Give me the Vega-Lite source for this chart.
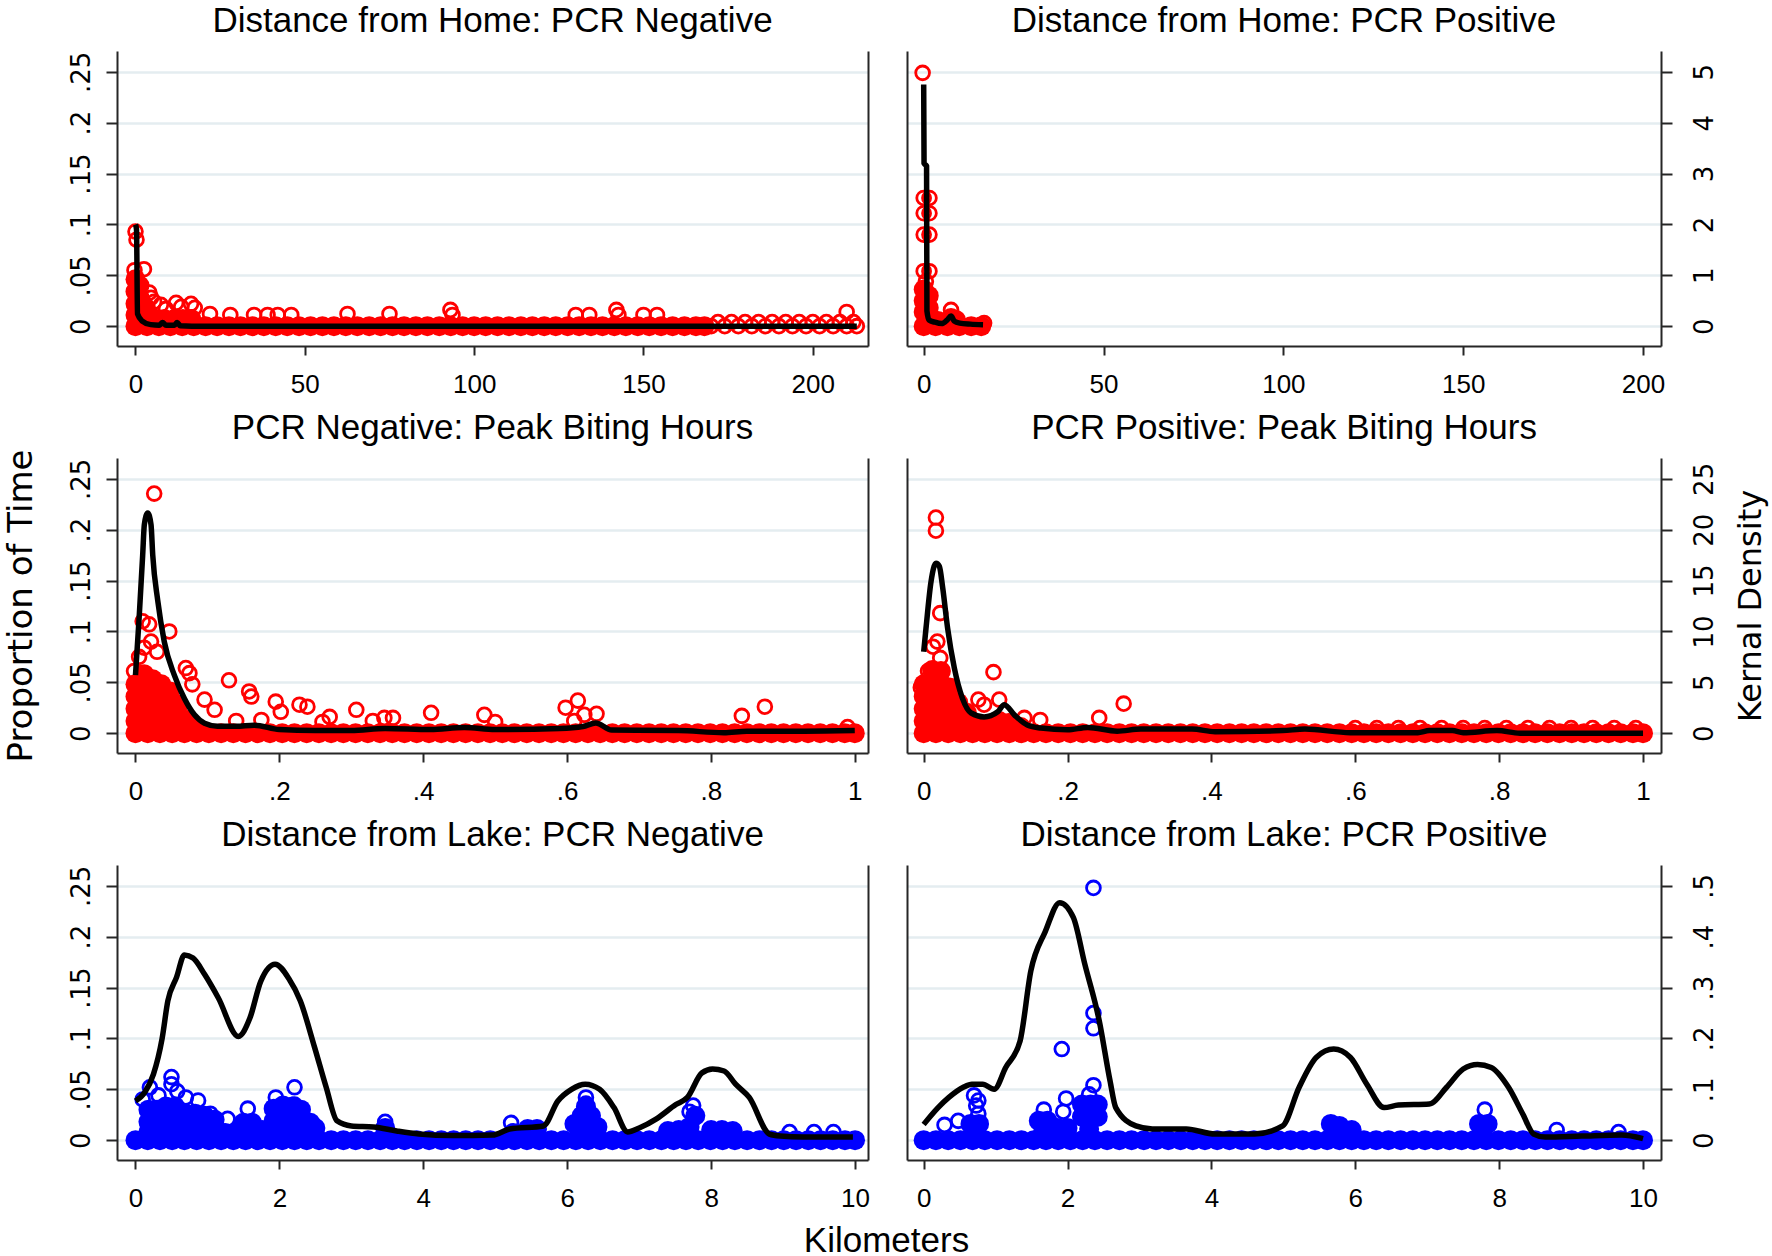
{
"$schema": "https://vega.github.io/schema/vega-lite/v6.json",
"autosize": {"type": "pad"},
"padding": {"left": 3, "top": 4, "right": 10, "bottom": 4},
"background": "white",
"datasets": {
"cloud": [
{"p":1,"x":0,"y":0},{"p":1,"x":3.4,"y":0},{"p":1,"x":6.9,"y":0},{"p":1,"x":10.3,"y":0},{"p":1,"x":13.8,"y":0},{"p":1,"x":17.2,"y":0},{"p":1,"x":20.7,"y":0},{"p":1,"x":24.1,"y":0},{"p":1,"x":27.6,"y":0},{"p":1,"x":31,"y":0},{"p":1,"x":34.5,"y":0},{"p":1,"x":37.9,"y":0},{"p":1,"x":41.4,"y":0},{"p":1,"x":44.8,"y":0},{"p":1,"x":48.3,"y":0},{"p":1,"x":51.7,"y":0},{"p":1,"x":55.2,"y":0},{"p":1,"x":58.6,"y":0},{"p":1,"x":62.1,"y":0},{"p":1,"x":65.5,"y":0},{"p":1,"x":69,"y":0},{"p":1,"x":72.4,"y":0},{"p":1,"x":75.9,"y":0},{"p":1,"x":79.3,"y":0},{"p":1,"x":82.8,"y":0},{"p":1,"x":86.2,"y":0},{"p":1,"x":89.7,"y":0},{"p":1,"x":93.1,"y":0},{"p":1,"x":96.6,"y":0},{"p":1,"x":100,"y":0},{"p":1,"x":103.4,"y":0},{"p":1,"x":106.9,"y":0},{"p":1,"x":110.3,"y":0},{"p":1,"x":113.8,"y":0},{"p":1,"x":117.2,"y":0},{"p":1,"x":120.7,"y":0},{"p":1,"x":124.1,"y":0},{"p":1,"x":127.6,"y":0},{"p":1,"x":131,"y":0},{"p":1,"x":134.5,"y":0},{"p":1,"x":137.9,"y":0},{"p":1,"x":141.4,"y":0},{"p":1,"x":144.8,"y":0},{"p":1,"x":148.3,"y":0},{"p":1,"x":151.7,"y":0},{"p":1,"x":155.2,"y":0},{"p":1,"x":158.6,"y":0},{"p":1,"x":162.1,"y":0},{"p":1,"x":165.5,"y":0},{"p":1,"x":168,"y":0},
{"p":1,"x":0,"y":0.046},{"p":1,"x":0,"y":0.034},{"p":1,"x":0,"y":0.022},{"p":1,"x":0,"y":0.011},{"p":1,"x":1.2,"y":0.04},{"p":1,"x":1.2,"y":0.028},{"p":1,"x":1.2,"y":0.016},{"p":1,"x":2.6,"y":0.02},{"p":1,"x":3,"y":0.008},{"p":1,"x":5.5,"y":0.007},{"p":1,"x":8.5,"y":0.007},{"p":1,"x":11.5,"y":0.007},{"p":1,"x":14,"y":0.007},{"p":1,"x":16.5,"y":0.007},
{"p":2,"x":0,"y":0},{"p":2,"x":3.3,"y":0},{"p":2,"x":6.6,"y":0},{"p":2,"x":9.9,"y":0},{"p":2,"x":13.2,"y":0},{"p":2,"x":16,"y":0},{"p":2,"x":0,"y":0.036},{"p":2,"x":0,"y":0.025},{"p":2,"x":0,"y":0.014},{"p":2,"x":1.4,"y":0.03},{"p":2,"x":1.4,"y":0.018},{"p":2,"x":1.4,"y":0.008},{"p":2,"x":4,"y":0.005},{"p":2,"x":7.6,"y":0.008},{"p":2,"x":9,"y":0.006},
{"p":3,"x":0,"y":0},{"p":3,"x":0.017,"y":0},{"p":3,"x":0.034,"y":0},{"p":3,"x":0.051,"y":0},{"p":3,"x":0.068,"y":0},{"p":3,"x":0.085,"y":0},{"p":3,"x":0.102,"y":0},{"p":3,"x":0.119,"y":0},{"p":3,"x":0.136,"y":0},{"p":3,"x":0.153,"y":0},{"p":3,"x":0.17,"y":0},{"p":3,"x":0.187,"y":0},{"p":3,"x":0.204,"y":0},{"p":3,"x":0.221,"y":0},{"p":3,"x":0.238,"y":0},{"p":3,"x":0.255,"y":0},{"p":3,"x":0.272,"y":0},{"p":3,"x":0.289,"y":0},{"p":3,"x":0.306,"y":0},{"p":3,"x":0.323,"y":0},{"p":3,"x":0.34,"y":0},{"p":3,"x":0.357,"y":0},{"p":3,"x":0.374,"y":0},{"p":3,"x":0.391,"y":0},{"p":3,"x":0.408,"y":0},{"p":3,"x":0.425,"y":0},{"p":3,"x":0.442,"y":0},{"p":3,"x":0.459,"y":0},{"p":3,"x":0.476,"y":0},{"p":3,"x":0.493,"y":0},{"p":3,"x":0.51,"y":0},{"p":3,"x":0.527,"y":0},{"p":3,"x":0.544,"y":0},{"p":3,"x":0.561,"y":0},{"p":3,"x":0.578,"y":0},{"p":3,"x":0.595,"y":0},{"p":3,"x":0.612,"y":0},{"p":3,"x":0.629,"y":0},{"p":3,"x":0.646,"y":0},{"p":3,"x":0.663,"y":0},{"p":3,"x":0.68,"y":0},{"p":3,"x":0.697,"y":0},{"p":3,"x":0.714,"y":0},{"p":3,"x":0.731,"y":0},{"p":3,"x":0.748,"y":0},{"p":3,"x":0.765,"y":0},{"p":3,"x":0.782,"y":0},{"p":3,"x":0.799,"y":0},{"p":3,"x":0.816,"y":0},{"p":3,"x":0.833,"y":0},{"p":3,"x":0.85,"y":0},{"p":3,"x":0.867,"y":0},{"p":3,"x":0.884,"y":0},{"p":3,"x":0.901,"y":0},{"p":3,"x":0.918,"y":0},{"p":3,"x":0.935,"y":0},{"p":3,"x":0.952,"y":0},{"p":3,"x":0.969,"y":0},{"p":3,"x":0.986,"y":0},{"p":3,"x":1,"y":0},
{"p":3,"x":0,"y":0.048},{"p":3,"x":0,"y":0.036},{"p":3,"x":0,"y":0.024},{"p":3,"x":0,"y":0.012},{"p":3,"x":0.012,"y":0.058},{"p":3,"x":0.012,"y":0.046},{"p":3,"x":0.012,"y":0.034},{"p":3,"x":0.012,"y":0.022},{"p":3,"x":0.012,"y":0.01},{"p":3,"x":0.024,"y":0.053},{"p":3,"x":0.024,"y":0.041},{"p":3,"x":0.024,"y":0.029},{"p":3,"x":0.024,"y":0.017},{"p":3,"x":0.036,"y":0.048},{"p":3,"x":0.036,"y":0.036},{"p":3,"x":0.036,"y":0.024},{"p":3,"x":0.036,"y":0.012},{"p":3,"x":0.048,"y":0.041},{"p":3,"x":0.048,"y":0.029},{"p":3,"x":0.048,"y":0.017},{"p":3,"x":0.06,"y":0.028},{"p":3,"x":0.06,"y":0.016},{"p":3,"x":0.072,"y":0.013},{"p":3,"x":0.084,"y":0.006},
{"p":4,"x":0,"y":0},{"p":4,"x":0.017,"y":0},{"p":4,"x":0.034,"y":0},{"p":4,"x":0.051,"y":0},{"p":4,"x":0.068,"y":0},{"p":4,"x":0.085,"y":0},{"p":4,"x":0.102,"y":0},{"p":4,"x":0.119,"y":0},{"p":4,"x":0.136,"y":0},{"p":4,"x":0.153,"y":0},{"p":4,"x":0.17,"y":0},{"p":4,"x":0.187,"y":0},{"p":4,"x":0.204,"y":0},{"p":4,"x":0.221,"y":0},{"p":4,"x":0.238,"y":0},{"p":4,"x":0.255,"y":0},{"p":4,"x":0.272,"y":0},{"p":4,"x":0.289,"y":0},{"p":4,"x":0.306,"y":0},{"p":4,"x":0.323,"y":0},{"p":4,"x":0.34,"y":0},{"p":4,"x":0.357,"y":0},{"p":4,"x":0.374,"y":0},{"p":4,"x":0.391,"y":0},{"p":4,"x":0.408,"y":0},{"p":4,"x":0.425,"y":0},{"p":4,"x":0.442,"y":0},{"p":4,"x":0.459,"y":0},{"p":4,"x":0.476,"y":0},{"p":4,"x":0.493,"y":0},{"p":4,"x":0.51,"y":0},{"p":4,"x":0.527,"y":0},{"p":4,"x":0.544,"y":0},{"p":4,"x":0.561,"y":0},{"p":4,"x":0.578,"y":0},{"p":4,"x":0.595,"y":0},{"p":4,"x":0.612,"y":0},{"p":4,"x":0.629,"y":0},{"p":4,"x":0.646,"y":0},{"p":4,"x":0.663,"y":0},{"p":4,"x":0.68,"y":0},{"p":4,"x":0.697,"y":0},{"p":4,"x":0.714,"y":0},{"p":4,"x":0.731,"y":0},{"p":4,"x":0.748,"y":0},{"p":4,"x":0.765,"y":0},{"p":4,"x":0.782,"y":0},{"p":4,"x":0.799,"y":0},{"p":4,"x":0.816,"y":0},{"p":4,"x":0.833,"y":0},{"p":4,"x":0.85,"y":0},{"p":4,"x":0.867,"y":0},{"p":4,"x":0.884,"y":0},{"p":4,"x":0.901,"y":0},{"p":4,"x":0.918,"y":0},{"p":4,"x":0.935,"y":0},{"p":4,"x":0.952,"y":0},{"p":4,"x":0.969,"y":0},{"p":4,"x":0.986,"y":0},{"p":4,"x":1,"y":0},
{"p":4,"x":0,"y":0.048},{"p":4,"x":0,"y":0.036},{"p":4,"x":0,"y":0.024},{"p":4,"x":0,"y":0.012},{"p":4,"x":0.012,"y":0.062},{"p":4,"x":0.012,"y":0.05},{"p":4,"x":0.012,"y":0.038},{"p":4,"x":0.012,"y":0.026},{"p":4,"x":0.012,"y":0.014},{"p":4,"x":0.024,"y":0.061},{"p":4,"x":0.024,"y":0.049},{"p":4,"x":0.024,"y":0.037},{"p":4,"x":0.024,"y":0.025},{"p":4,"x":0.024,"y":0.013},{"p":4,"x":0.036,"y":0.045},{"p":4,"x":0.036,"y":0.033},{"p":4,"x":0.036,"y":0.021},{"p":4,"x":0.036,"y":0.009},{"p":4,"x":0.048,"y":0.03},{"p":4,"x":0.048,"y":0.018},{"p":4,"x":0.048,"y":0.008},{"p":4,"x":0.06,"y":0.02},{"p":4,"x":0.06,"y":0.01},{"p":4,"x":0.075,"y":0.009},{"p":4,"x":0.09,"y":0.009},{"p":4,"x":0.105,"y":0.012},{"p":4,"x":0.118,"y":0.01},{"p":4,"x":0.135,"y":0.006},
{"p":5,"x":0,"y":0},{"p":5,"x":0.17,"y":0},{"p":5,"x":0.34,"y":0},{"p":5,"x":0.51,"y":0},{"p":5,"x":0.68,"y":0},{"p":5,"x":0.85,"y":0},{"p":5,"x":1.02,"y":0},{"p":5,"x":1.19,"y":0},{"p":5,"x":1.36,"y":0},{"p":5,"x":1.53,"y":0},{"p":5,"x":1.7,"y":0},{"p":5,"x":1.87,"y":0},{"p":5,"x":2.04,"y":0},{"p":5,"x":2.21,"y":0},{"p":5,"x":2.38,"y":0},{"p":5,"x":2.55,"y":0},{"p":5,"x":2.72,"y":0},{"p":5,"x":2.89,"y":0},{"p":5,"x":3.06,"y":0},{"p":5,"x":3.23,"y":0},{"p":5,"x":3.4,"y":0},{"p":5,"x":3.57,"y":0},{"p":5,"x":3.74,"y":0},{"p":5,"x":3.91,"y":0},{"p":5,"x":4.08,"y":0},{"p":5,"x":4.25,"y":0},{"p":5,"x":4.42,"y":0},{"p":5,"x":4.59,"y":0},{"p":5,"x":4.76,"y":0},{"p":5,"x":4.93,"y":0},{"p":5,"x":5.1,"y":0},{"p":5,"x":5.27,"y":0},{"p":5,"x":5.44,"y":0},{"p":5,"x":5.61,"y":0},{"p":5,"x":5.78,"y":0},{"p":5,"x":5.95,"y":0},{"p":5,"x":6.12,"y":0},{"p":5,"x":6.29,"y":0},{"p":5,"x":6.46,"y":0},{"p":5,"x":6.63,"y":0},{"p":5,"x":6.8,"y":0},{"p":5,"x":6.97,"y":0},{"p":5,"x":7.14,"y":0},{"p":5,"x":7.31,"y":0},{"p":5,"x":7.48,"y":0},{"p":5,"x":7.65,"y":0},{"p":5,"x":7.82,"y":0},{"p":5,"x":7.99,"y":0},{"p":5,"x":8.16,"y":0},{"p":5,"x":8.33,"y":0},{"p":5,"x":8.5,"y":0},{"p":5,"x":8.67,"y":0},{"p":5,"x":8.84,"y":0},{"p":5,"x":9.01,"y":0},{"p":5,"x":9.18,"y":0},{"p":5,"x":9.35,"y":0},{"p":5,"x":9.52,"y":0},{"p":5,"x":9.69,"y":0},{"p":5,"x":9.86,"y":0},{"p":5,"x":10,"y":0},
{"p":5,"x":0.18,"y":0.03},{"p":5,"x":0.18,"y":0.018},{"p":5,"x":0.18,"y":0.008},{"p":5,"x":0.3,"y":0.03},{"p":5,"x":0.3,"y":0.018},{"p":5,"x":0.3,"y":0.008},{"p":5,"x":0.42,"y":0.033},{"p":5,"x":0.42,"y":0.021},{"p":5,"x":0.42,"y":0.009},{"p":5,"x":0.55,"y":0.033},{"p":5,"x":0.55,"y":0.021},{"p":5,"x":0.55,"y":0.009},{"p":5,"x":0.7,"y":0.026},{"p":5,"x":0.7,"y":0.014},{"p":5,"x":0.83,"y":0.026},{"p":5,"x":0.83,"y":0.014},{"p":5,"x":0.96,"y":0.024},{"p":5,"x":0.96,"y":0.012},{"p":5,"x":1.1,"y":0.02},{"p":5,"x":1.1,"y":0.009},{"p":5,"x":1.25,"y":0.007},{"p":5,"x":1.38,"y":0.007},{"p":5,"x":1.5,"y":0.017},{"p":5,"x":1.5,"y":0.007},{"p":5,"x":1.62,"y":0.017},{"p":5,"x":1.62,"y":0.007},{"p":5,"x":1.76,"y":0.01},{"p":5,"x":1.92,"y":0.031},{"p":5,"x":1.92,"y":0.019},{"p":5,"x":1.92,"y":0.008},{"p":5,"x":2.05,"y":0.034},{"p":5,"x":2.05,"y":0.022},{"p":5,"x":2.05,"y":0.01},{"p":5,"x":2.18,"y":0.033},{"p":5,"x":2.18,"y":0.021},{"p":5,"x":2.18,"y":0.009},{"p":5,"x":2.3,"y":0.03},{"p":5,"x":2.3,"y":0.018},{"p":5,"x":2.3,"y":0.008},{"p":5,"x":2.43,"y":0.017},{"p":5,"x":2.43,"y":0.007},{"p":5,"x":2.5,"y":0.012},{"p":5,"x":3.47,"y":0.012},{"p":5,"x":5.25,"y":0.007},{"p":5,"x":5.45,"y":0.011},{"p":5,"x":5.58,"y":0.011},{"p":5,"x":6.1,"y":0.016},{"p":5,"x":6.2,"y":0.024},{"p":5,"x":6.26,"y":0.033},{"p":5,"x":6.33,"y":0.024},{"p":5,"x":6.42,"y":0.013},{"p":5,"x":6.2,"y":0.01},{"p":5,"x":6.3,"y":0.01},{"p":5,"x":7.4,"y":0.009},{"p":5,"x":7.55,"y":0.01},{"p":5,"x":7.7,"y":0.013},{"p":5,"x":7.78,"y":0.024},{"p":5,"x":8,"y":0.01},{"p":5,"x":8.15,"y":0.01},{"p":5,"x":8.3,"y":0.009},
{"p":6,"x":0,"y":0},{"p":6,"x":0.17,"y":0},{"p":6,"x":0.34,"y":0},{"p":6,"x":0.51,"y":0},{"p":6,"x":0.68,"y":0},{"p":6,"x":0.85,"y":0},{"p":6,"x":1.02,"y":0},{"p":6,"x":1.19,"y":0},{"p":6,"x":1.36,"y":0},{"p":6,"x":1.53,"y":0},{"p":6,"x":1.7,"y":0},{"p":6,"x":1.87,"y":0},{"p":6,"x":2.04,"y":0},{"p":6,"x":2.21,"y":0},{"p":6,"x":2.38,"y":0},{"p":6,"x":2.55,"y":0},{"p":6,"x":2.72,"y":0},{"p":6,"x":2.89,"y":0},{"p":6,"x":3.06,"y":0},{"p":6,"x":3.23,"y":0},{"p":6,"x":3.4,"y":0},{"p":6,"x":3.57,"y":0},{"p":6,"x":3.74,"y":0},{"p":6,"x":3.91,"y":0},{"p":6,"x":4.08,"y":0},{"p":6,"x":4.25,"y":0},{"p":6,"x":4.42,"y":0},{"p":6,"x":4.59,"y":0},{"p":6,"x":4.76,"y":0},{"p":6,"x":4.93,"y":0},{"p":6,"x":5.1,"y":0},{"p":6,"x":5.27,"y":0},{"p":6,"x":5.44,"y":0},{"p":6,"x":5.61,"y":0},{"p":6,"x":5.78,"y":0},{"p":6,"x":5.95,"y":0},{"p":6,"x":6.12,"y":0},{"p":6,"x":6.29,"y":0},{"p":6,"x":6.46,"y":0},{"p":6,"x":6.63,"y":0},{"p":6,"x":6.8,"y":0},{"p":6,"x":6.97,"y":0},{"p":6,"x":7.14,"y":0},{"p":6,"x":7.31,"y":0},{"p":6,"x":7.48,"y":0},{"p":6,"x":7.65,"y":0},{"p":6,"x":7.82,"y":0},{"p":6,"x":7.99,"y":0},{"p":6,"x":8.16,"y":0},{"p":6,"x":8.33,"y":0},{"p":6,"x":8.5,"y":0},{"p":6,"x":8.67,"y":0},{"p":6,"x":8.84,"y":0},{"p":6,"x":9.01,"y":0},{"p":6,"x":9.18,"y":0},{"p":6,"x":9.35,"y":0},{"p":6,"x":9.52,"y":0},{"p":6,"x":9.69,"y":0},{"p":6,"x":9.86,"y":0},{"p":6,"x":10,"y":0},
{"p":6,"x":0.65,"y":0.016},{"p":6,"x":0.77,"y":0.016},{"p":6,"x":0.7,"y":0.008},{"p":6,"x":1.6,"y":0.019},{"p":6,"x":1.72,"y":0.019},{"p":6,"x":1.66,"y":0.008},{"p":6,"x":1.86,"y":0.012},{"p":6,"x":2,"y":0.012},{"p":6,"x":2.2,"y":0.035},{"p":6,"x":2.32,"y":0.035},{"p":6,"x":2.42,"y":0.035},{"p":6,"x":2.2,"y":0.023},{"p":6,"x":2.32,"y":0.023},{"p":6,"x":2.42,"y":0.023},{"p":6,"x":2.3,"y":0.011},{"p":6,"x":5.66,"y":0.016},{"p":6,"x":5.78,"y":0.014},{"p":6,"x":5.95,"y":0.01},{"p":6,"x":7.72,"y":0.016},{"p":6,"x":7.84,"y":0.016}
],
"pts": [
{"p":1,"x":0,"y":0.093},{"p":1,"x":0.3,"y":0.085},{"p":1,"x":-0.3,"y":0.055},{"p":1,"x":2.5,"y":0.056},{"p":1,"x":4.1,"y":0.033},{"p":1,"x":4.6,"y":0.028},{"p":1,"x":5.5,"y":0.024},{"p":1,"x":7.5,"y":0.021},{"p":1,"x":9,"y":0.017},{"p":1,"x":12,"y":0.023},{"p":1,"x":13.5,"y":0.019},{"p":1,"x":16.4,"y":0.022},{"p":1,"x":17.5,"y":0.018},{"p":1,"x":22,"y":0.012},{"p":1,"x":28,"y":0.011},{"p":1,"x":35,"y":0.011},{"p":1,"x":39,"y":0.011},{"p":1,"x":42,"y":0.011},{"p":1,"x":46,"y":0.011},{"p":1,"x":62.6,"y":0.012},{"p":1,"x":75,"y":0.012},{"p":1,"x":93,"y":0.016},{"p":1,"x":93.6,"y":0.011},{"p":1,"x":130,"y":0.011},{"p":1,"x":134,"y":0.011},{"p":1,"x":142,"y":0.016},{"p":1,"x":142.6,"y":0.011},{"p":1,"x":150,"y":0.011},{"p":1,"x":154,"y":0.011},{"p":1,"x":210,"y":0.014},
{"p":1,"x":170,"y":0},{"p":1,"x":174,"y":0},{"p":1,"x":178,"y":0},{"p":1,"x":182,"y":0},{"p":1,"x":186,"y":0},{"p":1,"x":190,"y":0},{"p":1,"x":194,"y":0},{"p":1,"x":198,"y":0},{"p":1,"x":202,"y":0},{"p":1,"x":206,"y":0},{"p":1,"x":210,"y":0},{"p":1,"x":213,"y":0},{"p":1,"x":172,"y":0.004},{"p":1,"x":176,"y":0.004},{"p":1,"x":180,"y":0.004},{"p":1,"x":184,"y":0.004},{"p":1,"x":188,"y":0.004},{"p":1,"x":192,"y":0.004},{"p":1,"x":196,"y":0.004},{"p":1,"x":200,"y":0.004},{"p":1,"x":204,"y":0.004},{"p":1,"x":208,"y":0.004},{"p":1,"x":212,"y":0.004},
{"p":2,"x":-0.3,"y":0.249},{"p":2,"x":0,"y":0.126},{"p":2,"x":1.6,"y":0.126},{"p":2,"x":0,"y":0.111},{"p":2,"x":1.6,"y":0.111},{"p":2,"x":0,"y":0.09},{"p":2,"x":1.6,"y":0.09},{"p":2,"x":0,"y":0.054},{"p":2,"x":1.6,"y":0.054},{"p":2,"x":0.6,"y":0.044},{"p":2,"x":7.6,"y":0.016},{"p":2,"x":16.8,"y":0.003},
{"p":3,"x":0.026,"y":0.2355},{"p":3,"x":0.01,"y":0.11},{"p":3,"x":0.019,"y":0.107},{"p":3,"x":0.047,"y":0.1},{"p":3,"x":0.0216,"y":0.09},{"p":3,"x":0.012,"y":0.084},{"p":3,"x":-0.002,"y":0.061},{"p":3,"x":0.005,"y":0.075},{"p":3,"x":0.03,"y":0.08},{"p":3,"x":0.07,"y":0.064},{"p":3,"x":0.075,"y":0.059},{"p":3,"x":0.079,"y":0.048},{"p":3,"x":0.13,"y":0.052},{"p":3,"x":0.158,"y":0.041},{"p":3,"x":0.161,"y":0.036},{"p":3,"x":0.096,"y":0.033},{"p":3,"x":0.11,"y":0.023},{"p":3,"x":0.195,"y":0.031},{"p":3,"x":0.202,"y":0.021},{"p":3,"x":0.228,"y":0.028},{"p":3,"x":0.239,"y":0.026},{"p":3,"x":0.27,"y":0.016},{"p":3,"x":0.307,"y":0.023},{"p":3,"x":0.346,"y":0.015},{"p":3,"x":0.358,"y":0.015},{"p":3,"x":0.411,"y":0.02},{"p":3,"x":0.485,"y":0.018},{"p":3,"x":0.598,"y":0.025},{"p":3,"x":0.615,"y":0.032},{"p":3,"x":0.624,"y":0.018},{"p":3,"x":0.641,"y":0.019},{"p":3,"x":0.843,"y":0.017},{"p":3,"x":0.875,"y":0.026},{"p":3,"x":0.14,"y":0.012},{"p":3,"x":0.175,"y":0.013},{"p":3,"x":0.26,"y":0.011},{"p":3,"x":0.33,"y":0.012},{"p":3,"x":0.5,"y":0.011},{"p":3,"x":0.61,"y":0.012},{"p":3,"x":0.99,"y":0.006},
{"p":4,"x":0.017,"y":0.212},{"p":4,"x":0.017,"y":0.199},{"p":4,"x":0.023,"y":0.118},{"p":4,"x":0.019,"y":0.09},{"p":4,"x":0.013,"y":0.085},{"p":4,"x":0.023,"y":0.074},{"p":4,"x":0.006,"y":0.061},{"p":4,"x":-0.004,"y":0.045},{"p":4,"x":0.003,"y":0.035},{"p":4,"x":0.097,"y":0.06},{"p":4,"x":0.076,"y":0.033},{"p":4,"x":0.105,"y":0.033},{"p":4,"x":0.084,"y":0.028},{"p":4,"x":0.162,"y":0.013},{"p":4,"x":0.244,"y":0.015},{"p":4,"x":0.278,"y":0.029},{"p":4,"x":0.14,"y":0.015},
{"p":4,"x":0.6,"y":0.005},{"p":4,"x":0.63,"y":0.005},{"p":4,"x":0.66,"y":0.005},{"p":4,"x":0.69,"y":0.005},{"p":4,"x":0.72,"y":0.005},{"p":4,"x":0.75,"y":0.005},{"p":4,"x":0.78,"y":0.005},{"p":4,"x":0.81,"y":0.005},{"p":4,"x":0.84,"y":0.005},{"p":4,"x":0.87,"y":0.005},{"p":4,"x":0.9,"y":0.005},{"p":4,"x":0.93,"y":0.005},{"p":4,"x":0.96,"y":0.005},{"p":4,"x":0.99,"y":0.005},
{"p":5,"x":0.2,"y":0.052},{"p":5,"x":0.5,"y":0.062},{"p":5,"x":0.5,"y":0.055},{"p":5,"x":0.58,"y":0.048},{"p":5,"x":0.7,"y":0.042},{"p":5,"x":0.87,"y":0.039},{"p":5,"x":1.04,"y":0.026},{"p":5,"x":1.28,"y":0.021},{"p":5,"x":1.56,"y":0.031},{"p":5,"x":1.95,"y":0.042},{"p":5,"x":2.21,"y":0.052},{"p":5,"x":2.21,"y":0.035},{"p":5,"x":0.1,"y":0.04},{"p":5,"x":0.32,"y":0.044},{"p":5,"x":3.47,"y":0.018},{"p":5,"x":5.22,"y":0.017},{"p":5,"x":6.26,"y":0.042},{"p":5,"x":6.26,"y":0.036},{"p":5,"x":7.75,"y":0.034},{"p":5,"x":7.7,"y":0.028},{"p":5,"x":9.09,"y":0.008},{"p":5,"x":9.43,"y":0.008},{"p":5,"x":9.7,"y":0.008},
{"p":6,"x":0.29,"y":0.015},{"p":6,"x":0.48,"y":0.019},{"p":6,"x":0.7,"y":0.044},{"p":6,"x":0.76,"y":0.039},{"p":6,"x":0.76,"y":0.026},{"p":6,"x":0.73,"y":0.034},{"p":6,"x":1.67,"y":0.03},{"p":6,"x":1.98,"y":0.041},{"p":6,"x":1.94,"y":0.028},{"p":6,"x":1.92,"y":0.0896},{"p":6,"x":2.36,"y":0.054},{"p":6,"x":2.36,"y":0.125},{"p":6,"x":2.36,"y":0.11},{"p":6,"x":2.36,"y":0.248},{"p":6,"x":2.3,"y":0.045},{"p":6,"x":7.8,"y":0.03},{"p":6,"x":8.8,"y":0.01},{"p":6,"x":9.66,"y":0.008}
],
"dens": [
{"p":1,"x":0,"d":2.0},{"p":1,"x":0.3,"d":1.9},{"p":1,"x":0.6,"d":0.24},{"p":1,"x":2,"d":0.1},{"p":1,"x":4.5,"d":0.03},{"p":1,"x":7,"d":0.02},{"p":1,"x":8,"d":0.07},{"p":1,"x":9,"d":0.02},{"p":1,"x":11.5,"d":0.02},{"p":1,"x":12.3,"d":0.07},{"p":1,"x":13.2,"d":0.01},{"p":1,"x":20,"d":0},{"p":1,"x":60,"d":0},{"p":1,"x":100,"d":0},{"p":1,"x":150,"d":0},{"p":1,"x":213,"d":0},
{"p":2,"x":0,"d":4.75},{"p":2,"x":0.1,"d":3.2},{"p":2,"x":0.8,"d":3.15},{"p":2,"x":0.9,"d":0.3},{"p":2,"x":1.5,"d":0.12},{"p":2,"x":3,"d":0.08},{"p":2,"x":5,"d":0.05},{"p":2,"x":6.5,"d":0.12},{"p":2,"x":7.6,"d":0.2},{"p":2,"x":8.5,"d":0.1},{"p":2,"x":10,"d":0.06},{"p":2,"x":13,"d":0.04},{"p":2,"x":16.5,"d":0.03},
{"p":3,"x":0,"d":5.7},{"p":3,"x":0.0053,"d":11.6},{"p":3,"x":0.01,"d":17.5},{"p":3,"x":0.0123,"d":20.5},{"p":3,"x":0.017,"d":21.65},{"p":3,"x":0.0216,"d":20.5},{"p":3,"x":0.024,"d":17.5},{"p":3,"x":0.031,"d":13},{"p":3,"x":0.04,"d":9},{"p":3,"x":0.054,"d":5.7},{"p":3,"x":0.068,"d":3.4},{"p":3,"x":0.082,"d":1.8},{"p":3,"x":0.096,"d":0.98},{"p":3,"x":0.114,"d":0.68},{"p":3,"x":0.14,"d":0.68},{"p":3,"x":0.165,"d":0.78},{"p":3,"x":0.2,"d":0.35},{"p":3,"x":0.25,"d":0.25},{"p":3,"x":0.3,"d":0.25},{"p":3,"x":0.347,"d":0.45},{"p":3,"x":0.41,"d":0.35},{"p":3,"x":0.457,"d":0.55},{"p":3,"x":0.5,"d":0.35},{"p":3,"x":0.59,"d":0.45},{"p":3,"x":0.622,"d":0.65},{"p":3,"x":0.64,"d":1.0},{"p":3,"x":0.662,"d":0.3},{"p":3,"x":0.755,"d":0.25},{"p":3,"x":0.818,"d":0.05},{"p":3,"x":0.85,"d":0.2},{"p":3,"x":0.93,"d":0.2},{"p":3,"x":1,"d":0.25},
{"p":4,"x":0,"d":8.0},{"p":4,"x":0.0032,"d":10.3},{"p":4,"x":0.0102,"d":14.9},{"p":4,"x":0.0171,"d":16.7},{"p":4,"x":0.0218,"d":16.4},{"p":4,"x":0.0264,"d":14.3},{"p":4,"x":0.0333,"d":10.3},{"p":4,"x":0.0426,"d":6.4},{"p":4,"x":0.054,"d":3.4},{"p":4,"x":0.0657,"d":2.0},{"p":4,"x":0.084,"d":1.6},{"p":4,"x":0.103,"d":2.1},{"p":4,"x":0.112,"d":2.8},{"p":4,"x":0.126,"d":1.8},{"p":4,"x":0.144,"d":0.8},{"p":4,"x":0.163,"d":0.5},{"p":4,"x":0.2,"d":0.33},{"p":4,"x":0.228,"d":0.56},{"p":4,"x":0.269,"d":0.2},{"p":4,"x":0.302,"d":0.4},{"p":4,"x":0.373,"d":0.4},{"p":4,"x":0.405,"d":0.15},{"p":4,"x":0.499,"d":0.25},{"p":4,"x":0.53,"d":0.4},{"p":4,"x":0.593,"d":0.05},{"p":4,"x":0.687,"d":0.05},{"p":4,"x":0.703,"d":0.25},{"p":4,"x":0.735,"d":0.25},{"p":4,"x":0.75,"d":0.05},{"p":4,"x":0.797,"d":0.25},{"p":4,"x":0.829,"d":0},{"p":4,"x":1,"d":0},
{"p":5,"x":0,"d":0.077},{"p":5,"x":0.13,"d":0.094},{"p":5,"x":0.25,"d":0.13},{"p":5,"x":0.37,"d":0.2},{"p":5,"x":0.45,"d":0.274},{"p":5,"x":0.57,"d":0.32},{"p":5,"x":0.68,"d":0.364},{"p":5,"x":0.8,"d":0.358},{"p":5,"x":0.96,"d":0.326},{"p":5,"x":1.15,"d":0.28},{"p":5,"x":1.43,"d":0.204},{"p":5,"x":1.59,"d":0.24},{"p":5,"x":1.74,"d":0.312},{"p":5,"x":1.94,"d":0.346},{"p":5,"x":2.13,"d":0.318},{"p":5,"x":2.29,"d":0.274},{"p":5,"x":2.49,"d":0.182},{"p":5,"x":2.65,"d":0.104},{"p":5,"x":2.8,"d":0.038},{"p":5,"x":3,"d":0.028},{"p":5,"x":3.31,"d":0.026},{"p":5,"x":3.63,"d":0.018},{"p":5,"x":3.94,"d":0.012},{"p":5,"x":4.41,"d":0.009},{"p":5,"x":4.96,"d":0.01},{"p":5,"x":5.2,"d":0.022},{"p":5,"x":5.67,"d":0.028},{"p":5,"x":5.87,"d":0.077},{"p":5,"x":6.06,"d":0.1},{"p":5,"x":6.25,"d":0.11},{"p":5,"x":6.45,"d":0.1},{"p":5,"x":6.65,"d":0.064},{"p":5,"x":6.84,"d":0.016},{"p":5,"x":7,"d":0.024},{"p":5,"x":7.24,"d":0.042},{"p":5,"x":7.51,"d":0.07},{"p":5,"x":7.67,"d":0.084},{"p":5,"x":7.87,"d":0.132},{"p":5,"x":8.02,"d":0.14},{"p":5,"x":8.18,"d":0.136},{"p":5,"x":8.34,"d":0.11},{"p":5,"x":8.53,"d":0.084},{"p":5,"x":8.81,"d":0.012},{"p":5,"x":8.96,"d":0.008},{"p":5,"x":9.28,"d":0.006},{"p":5,"x":9.97,"d":0.006},
{"p":6,"x":0,"d":0.031},{"p":6,"x":0.2,"d":0.064},{"p":6,"x":0.35,"d":0.084},{"p":6,"x":0.55,"d":0.104},{"p":6,"x":0.67,"d":0.11},{"p":6,"x":0.82,"d":0.11},{"p":6,"x":0.98,"d":0.1},{"p":6,"x":1.14,"d":0.143},{"p":6,"x":1.34,"d":0.195},{"p":6,"x":1.49,"d":0.333},{"p":6,"x":1.69,"d":0.41},{"p":6,"x":1.89,"d":0.467},{"p":6,"x":2.08,"d":0.438},{"p":6,"x":2.24,"d":0.346},{"p":6,"x":2.44,"d":0.235},{"p":6,"x":2.59,"d":0.117},{"p":6,"x":2.67,"d":0.064},{"p":6,"x":2.95,"d":0.028},{"p":6,"x":3.18,"d":0.022},{"p":6,"x":3.65,"d":0.022},{"p":6,"x":4.05,"d":0.012},{"p":6,"x":4.6,"d":0.012},{"p":6,"x":4.99,"d":0.028},{"p":6,"x":5.22,"d":0.104},{"p":6,"x":5.46,"d":0.163},{"p":6,"x":5.7,"d":0.179},{"p":6,"x":5.93,"d":0.163},{"p":6,"x":6.16,"d":0.11},{"p":6,"x":6.4,"d":0.064},{"p":6,"x":6.6,"d":0.069},{"p":6,"x":7.03,"d":0.071},{"p":6,"x":7.27,"d":0.104},{"p":6,"x":7.5,"d":0.14},{"p":6,"x":7.7,"d":0.149},{"p":6,"x":7.89,"d":0.143},{"p":6,"x":8.13,"d":0.104},{"p":6,"x":8.33,"d":0.051},{"p":6,"x":8.48,"d":0.012},{"p":6,"x":8.64,"d":0.006},{"p":6,"x":9.15,"d":0.008},{"p":6,"x":9.7,"d":0.01},{"p":6,"x":10,"d":0.003}
]
},
"config": {
"view": {"stroke": null},
"font": "Liberation Sans",
"axis": {"domainColor": "#262626", "domainWidth": 2, "tickColor": "#262626", "tickWidth": 2, "labelColor": "#000000", "gridColor": "#e4edf0", "gridWidth": 2.5, "labelOverlap": false, "labelFlush": false, "labelBound": false},
"title": {"font": "Liberation Sans", "fontSize": 35, "fontWeight": "normal", "color": "#000000", "anchor": "middle", "frame": "group", "baseline": "alphabetic", "offset": 12}
},
"columns": 2,
"spacing": {"row": 112, "column": 39},
"bounds": "flush",
"concat": [
{"width": 751, "height": 295, "title": "Distance from Home: PCR Negative",
 "encoding": {"x": {"field": "x", "type": "quantitative", "scale": {"domain": [-5.46, 216.3], "nice": false, "zero": false}, "axis": {"values": [0, 50, 100, 150, 200], "title": null, "grid": false, "tickSize": 9, "labelPadding": 16, "labelFont": "Liberation Sans", "labelFontSize": 26, "labelExpr": "datum.value > 0 && datum.value < 1 ? substring(toString(datum.value), 1) : toString(datum.value)"}}},
 "layer": [
  {"encoding": {"y": {"field": "y", "type": "quantitative", "scale": {"domain": [-0.0195, 0.2705], "nice": false, "zero": false}, "axis": {"orient": "left", "values": [0, 0.05, 0.1, 0.15, 0.2, 0.25], "title": null, "grid": true, "tickSize": 11, "labelPadding": 17, "labelAngle": 270, "labelAlign": "center", "labelBaseline": "alphabetic", "labelFont": "DejaVu Sans", "labelFontSize": 26, "labelExpr": "datum.value > 0 && datum.value < 1 ? substring(toString(datum.value), 1) : toString(datum.value)"}}},
   "layer": [
    {"data": {"name": "cloud"}, "transform": [{"filter": "datum.p == 1"}], "mark": {"type": "point", "shape": "circle", "filled": true, "size": 400, "color": "#ff0000", "opacity": 1, "strokeWidth": 0}},
    {"data": {"name": "pts"}, "transform": [{"filter": "datum.p == 1"}], "mark": {"type": "point", "shape": "circle", "filled": false, "size": 190, "color": "#ff0000", "opacity": 1, "strokeWidth": 2.8}}
   ]},
  {"data": {"name": "dens"}, "transform": [{"filter": "datum.p == 1"}], "mark": {"type": "line", "color": "#000000", "strokeWidth": 5.5, "interpolate": "monotone", "strokeJoin": "round"},
   "encoding": {"y": {"field": "d", "type": "quantitative", "scale": {"domain": [-0.39, 5.41], "nice": false, "zero": false}, "axis": {"orient": "right", "labels": false, "ticks": false, "grid": false, "title": null}}}}
 ],
 "resolve": {"scale": {"y": "independent"}}},
{"width": 754, "height": 295, "title": "Distance from Home: PCR Positive",
 "encoding": {"x": {"field": "x", "type": "quantitative", "scale": {"domain": [-4.64, 205.0], "nice": false, "zero": false}, "axis": {"values": [0, 50, 100, 150, 200], "title": null, "grid": false, "tickSize": 9, "labelPadding": 16, "labelFont": "Liberation Sans", "labelFontSize": 26, "labelExpr": "datum.value > 0 && datum.value < 1 ? substring(toString(datum.value), 1) : toString(datum.value)"}}},
 "layer": [
  {"encoding": {"y": {"field": "y", "type": "quantitative", "scale": {"domain": [-0.0195, 0.2705], "nice": false, "zero": false}, "axis": {"orient": "left", "values": [0, 0.05, 0.1, 0.15, 0.2, 0.25], "title": null, "grid": true, "labels": false, "ticks": false}}},
   "layer": [
    {"data": {"name": "cloud"}, "transform": [{"filter": "datum.p == 2"}], "mark": {"type": "point", "shape": "circle", "filled": true, "size": 400, "color": "#ff0000", "opacity": 1, "strokeWidth": 0}},
    {"data": {"name": "pts"}, "transform": [{"filter": "datum.p == 2"}], "mark": {"type": "point", "shape": "circle", "filled": false, "size": 190, "color": "#ff0000", "opacity": 1, "strokeWidth": 2.8}}
   ]},
  {"data": {"name": "dens"}, "transform": [{"filter": "datum.p == 2"}], "mark": {"type": "line", "color": "#000000", "strokeWidth": 5.5, "interpolate": "monotone", "strokeJoin": "round"},
   "encoding": {"y": {"field": "d", "type": "quantitative", "scale": {"domain": [-0.39, 5.41], "nice": false, "zero": false}, "axis": {"orient": "right", "values": [0, 1, 2, 3, 4, 5], "title": null, "grid": false, "tickSize": 11, "labelPadding": 40, "labelAngle": 270, "labelAlign": "center", "labelBaseline": "alphabetic", "labelFont": "DejaVu Sans", "labelFontSize": 26}}}}
 ],
 "resolve": {"scale": {"y": "independent"}}},
{"width": 751, "height": 295, "title": {"text": "PCR Negative: Peak Biting Hours", "offset": 3},
 "encoding": {"x": {"field": "x", "type": "quantitative", "scale": {"domain": [-0.0257, 1.0184], "nice": false, "zero": false}, "axis": {"values": [0, 0.2, 0.4, 0.6, 0.8, 1], "title": null, "grid": false, "tickSize": 9, "labelPadding": 16, "labelFont": "Liberation Sans", "labelFontSize": 26, "labelExpr": "datum.value > 0 && datum.value < 1 ? substring(toString(datum.value), 1) : toString(datum.value)"}}},
 "layer": [
  {"encoding": {"y": {"field": "y", "type": "quantitative", "scale": {"domain": [-0.0195, 0.2705], "nice": false, "zero": false}, "axis": {"orient": "left", "values": [0, 0.05, 0.1, 0.15, 0.2, 0.25], "grid": true, "tickSize": 11, "labelPadding": 17, "labelAngle": 270, "labelAlign": "center", "labelBaseline": "alphabetic", "labelFont": "DejaVu Sans", "labelFontSize": 26, "labelExpr": "datum.value > 0 && datum.value < 1 ? substring(toString(datum.value), 1) : toString(datum.value)",
     "title": "Proportion of Time", "titleFont": "DejaVu Sans", "titleFontSize": 34, "titleFontWeight": "normal", "titleColor": "#000000", "titleAngle": 270, "titleAlign": "center", "titleBaseline": "alphabetic", "titleX": -86, "titleY": 147.5}}},
   "layer": [
    {"data": {"name": "cloud"}, "transform": [{"filter": "datum.p == 3"}], "mark": {"type": "point", "shape": "circle", "filled": true, "size": 400, "color": "#ff0000", "opacity": 1, "strokeWidth": 0}},
    {"data": {"name": "pts"}, "transform": [{"filter": "datum.p == 3"}], "mark": {"type": "point", "shape": "circle", "filled": false, "size": 190, "color": "#ff0000", "opacity": 1, "strokeWidth": 2.8}}
   ]},
  {"data": {"name": "dens"}, "transform": [{"filter": "datum.p == 3"}], "mark": {"type": "line", "color": "#000000", "strokeWidth": 5.5, "interpolate": "monotone", "strokeJoin": "round"},
   "encoding": {"y": {"field": "d", "type": "quantitative", "scale": {"domain": [-1.95, 27.05], "nice": false, "zero": false}, "axis": {"orient": "right", "labels": false, "ticks": false, "grid": false, "title": null}}}}
 ],
 "resolve": {"scale": {"y": "independent"}}},
{"width": 754, "height": 295, "title": "PCR Positive: Peak Biting Hours",
 "encoding": {"x": {"field": "x", "type": "quantitative", "scale": {"domain": [-0.0232, 1.025], "nice": false, "zero": false}, "axis": {"values": [0, 0.2, 0.4, 0.6, 0.8, 1], "title": null, "grid": false, "tickSize": 9, "labelPadding": 16, "labelFont": "Liberation Sans", "labelFontSize": 26, "labelExpr": "datum.value > 0 && datum.value < 1 ? substring(toString(datum.value), 1) : toString(datum.value)"}}},
 "layer": [
  {"encoding": {"y": {"field": "y", "type": "quantitative", "scale": {"domain": [-0.0195, 0.2705], "nice": false, "zero": false}, "axis": {"orient": "left", "values": [0, 0.05, 0.1, 0.15, 0.2, 0.25], "title": null, "grid": true, "labels": false, "ticks": false}}},
   "layer": [
    {"data": {"name": "cloud"}, "transform": [{"filter": "datum.p == 4"}], "mark": {"type": "point", "shape": "circle", "filled": true, "size": 400, "color": "#ff0000", "opacity": 1, "strokeWidth": 0}},
    {"data": {"name": "pts"}, "transform": [{"filter": "datum.p == 4"}], "mark": {"type": "point", "shape": "circle", "filled": false, "size": 190, "color": "#ff0000", "opacity": 1, "strokeWidth": 2.8}}
   ]},
  {"data": {"name": "dens"}, "transform": [{"filter": "datum.p == 4"}], "mark": {"type": "line", "color": "#000000", "strokeWidth": 5.5, "interpolate": "monotone", "strokeJoin": "round"},
   "encoding": {"y": {"field": "d", "type": "quantitative", "scale": {"domain": [-1.95, 27.05], "nice": false, "zero": false}, "axis": {"orient": "right", "values": [0, 5, 10, 15, 20, 25], "grid": false, "tickSize": 11, "labelPadding": 40, "labelAngle": 270, "labelAlign": "center", "labelBaseline": "alphabetic", "labelFont": "DejaVu Sans", "labelFontSize": 26,
     "title": "Kernal Density", "titleFont": "DejaVu Sans", "titleFontSize": 32, "titleFontWeight": "normal", "titleColor": "#000000", "titleAngle": 270, "titleAlign": "center", "titleBaseline": "alphabetic", "titleX": 99, "titleY": 147.5}}}}
 ],
 "resolve": {"scale": {"y": "independent"}}},
{"width": 751, "height": 295, "title": "Distance from Lake: PCR Negative",
 "encoding": {"x": {"field": "x", "type": "quantitative", "scale": {"domain": [-0.257, 10.18], "nice": false, "zero": false}, "axis": {"values": [0, 2, 4, 6, 8, 10], "grid": false, "tickSize": 9, "labelPadding": 16, "labelFont": "Liberation Sans", "labelFontSize": 26, "labelExpr": "datum.value > 0 && datum.value < 1 ? substring(toString(datum.value), 1) : toString(datum.value)",
   "title": "Kilometers", "titleFont": "Liberation Sans", "titleFontSize": 35, "titleFontWeight": "normal", "titleColor": "#000000", "titleAlign": "center", "titleBaseline": "alphabetic", "titleX": 769, "titleY": 91}}},
 "layer": [
  {"encoding": {"y": {"field": "y", "type": "quantitative", "scale": {"domain": [-0.0195, 0.2705], "nice": false, "zero": false}, "axis": {"orient": "left", "values": [0, 0.05, 0.1, 0.15, 0.2, 0.25], "title": null, "grid": true, "tickSize": 11, "labelPadding": 17, "labelAngle": 270, "labelAlign": "center", "labelBaseline": "alphabetic", "labelFont": "DejaVu Sans", "labelFontSize": 26, "labelExpr": "datum.value > 0 && datum.value < 1 ? substring(toString(datum.value), 1) : toString(datum.value)"}}},
   "layer": [
    {"data": {"name": "cloud"}, "transform": [{"filter": "datum.p == 5"}], "mark": {"type": "point", "shape": "circle", "filled": true, "size": 400, "color": "#0000ff", "opacity": 1, "strokeWidth": 0}},
    {"data": {"name": "pts"}, "transform": [{"filter": "datum.p == 5"}], "mark": {"type": "point", "shape": "circle", "filled": false, "size": 190, "color": "#0000ff", "opacity": 1, "strokeWidth": 2.8}}
   ]},
  {"data": {"name": "dens"}, "transform": [{"filter": "datum.p == 5"}], "mark": {"type": "line", "color": "#000000", "strokeWidth": 5.5, "interpolate": "monotone", "strokeJoin": "round"},
   "encoding": {"y": {"field": "d", "type": "quantitative", "scale": {"domain": [-0.039, 0.541], "nice": false, "zero": false}, "axis": {"orient": "right", "labels": false, "ticks": false, "grid": false, "title": null}}}}
 ],
 "resolve": {"scale": {"y": "independent"}}},
{"width": 754, "height": 295, "title": "Distance from Lake: PCR Positive",
 "encoding": {"x": {"field": "x", "type": "quantitative", "scale": {"domain": [-0.232, 10.25], "nice": false, "zero": false}, "axis": {"values": [0, 2, 4, 6, 8, 10], "title": null, "grid": false, "tickSize": 9, "labelPadding": 16, "labelFont": "Liberation Sans", "labelFontSize": 26, "labelExpr": "datum.value > 0 && datum.value < 1 ? substring(toString(datum.value), 1) : toString(datum.value)"}}},
 "layer": [
  {"encoding": {"y": {"field": "y", "type": "quantitative", "scale": {"domain": [-0.0195, 0.2705], "nice": false, "zero": false}, "axis": {"orient": "left", "values": [0, 0.05, 0.1, 0.15, 0.2, 0.25], "title": null, "grid": true, "labels": false, "ticks": false}}},
   "layer": [
    {"data": {"name": "cloud"}, "transform": [{"filter": "datum.p == 6"}], "mark": {"type": "point", "shape": "circle", "filled": true, "size": 400, "color": "#0000ff", "opacity": 1, "strokeWidth": 0}},
    {"data": {"name": "pts"}, "transform": [{"filter": "datum.p == 6"}], "mark": {"type": "point", "shape": "circle", "filled": false, "size": 190, "color": "#0000ff", "opacity": 1, "strokeWidth": 2.8}}
   ]},
  {"data": {"name": "dens"}, "transform": [{"filter": "datum.p == 6"}], "mark": {"type": "line", "color": "#000000", "strokeWidth": 5.5, "interpolate": "monotone", "strokeJoin": "round"},
   "encoding": {"y": {"field": "d", "type": "quantitative", "scale": {"domain": [-0.039, 0.541], "nice": false, "zero": false}, "axis": {"orient": "right", "values": [0, 0.1, 0.2, 0.3, 0.4, 0.5], "title": null, "grid": false, "tickSize": 11, "labelPadding": 40, "labelAngle": 270, "labelAlign": "center", "labelBaseline": "alphabetic", "labelFont": "DejaVu Sans", "labelFontSize": 26, "labelExpr": "datum.value > 0 && datum.value < 1 ? substring(toString(datum.value), 1) : toString(datum.value)"}}}}
 ],
 "resolve": {"scale": {"y": "independent"}}}
]
}
